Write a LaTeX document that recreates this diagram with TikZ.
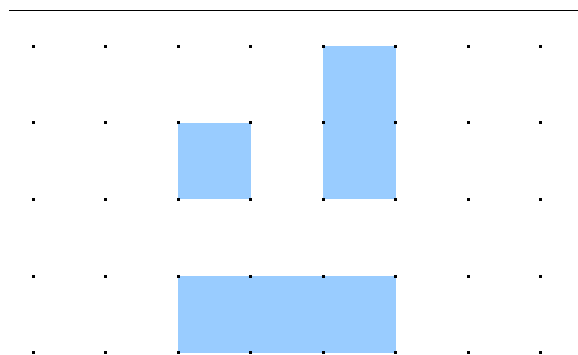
\documentclass[tikz,border=0pt]{standalone}
\definecolor{cellblue}{RGB}{153,204,255}
\tikzset{
  gdot/.style={fill=black,inner sep=0pt,minimum size=3pt,draw=none,rectangle},
  cell/.style={fill=cellblue,draw=none},
  rule/.style={draw=black,line width=1pt}
}
\begin{document}
\begin{tikzpicture}[x=1pt,y=-1pt]
\useasboundingbox (0,0) rectangle (578,355);
\coordinate (L1) at (9,10.3);
\coordinate (L2) at (578,10.3);
\draw[rule] (L1) -- (L2);
% grid coordinates
\foreach \i in {0,...,7} {
  \foreach \j in {0,...,4} {
    \coordinate (p\i-\j) at ({33.5+72.45*\i},{46.3+76.6*\j});
  }
}
% blue cells
\fill[cell] (p2-1) rectangle (p3-2);
\fill[cell] (p4-0) rectangle (p5-2);
\fill[cell] (p2-3) rectangle (p5-4);
% dots
\foreach \i in {0,...,7} {
  \foreach \j in {0,...,4} {
    \node[gdot] (d\i-\j) at (p\i-\j) {};
  }
}
\end{tikzpicture}
\end{document}
